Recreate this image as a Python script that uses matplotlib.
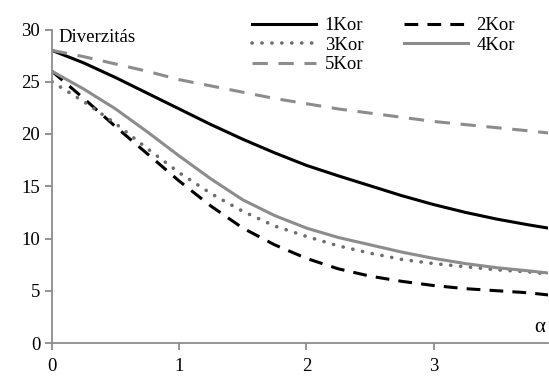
import numpy as np
from matplotlib import pyplot as plt

plt.rcParams['font.family'] = ['Liberation Serif', 'DejaVu Serif']

# alpha values (x) and the diversity curves
alpha = [0, 0.25, 0.5, 0.75, 1, 1.25, 1.5, 1.75, 2, 2.25, 2.5, 2.75, 3,
         3.25, 3.5, 3.75, 3.9]
kor1 = [28, 26.8, 25.4, 23.9, 22.4, 20.9, 19.5, 18.2, 17.0, 16.0, 15.05,
        14.1, 13.25, 12.5, 11.85, 11.3, 11.0]
kor2 = [26, 23.4, 20.7, 18.1, 15.5, 13.1, 11.0, 9.4, 8.1, 7.1, 6.4,
        5.9, 5.5, 5.2, 5.0, 4.8, 4.6]
kor3 = [25, 23.1, 21.0, 18.6, 16.3, 14.3, 12.6, 11.2, 10.2, 9.3, 8.6,
        8.0, 7.6, 7.3, 7.0, 6.8, 6.6]
kor4 = [26, 24.3, 22.4, 20.2, 17.9, 15.7, 13.7, 12.2, 11.0, 10.1, 9.4,
        8.7, 8.1, 7.6, 7.2, 6.9, 6.7]
kor5 = [28, 27.4, 26.7, 26.0, 25.2, 24.6, 24.0, 23.4, 22.9, 22.4, 22.0,
        21.6, 21.2, 20.9, 20.6, 20.3, 20.1]

fig = plt.figure(figsize=(5.49, 3.76), dpi=100)
ax = fig.add_axes([52/549, 33/376, 496/549, 313.5/376])

lw = 2.2
grey = '#8c8c8c'
h1, = ax.plot(alpha, kor1, color='black', lw=lw, label='1Kor')
h2, = ax.plot(alpha, kor2, color='black', lw=lw, dashes=(4.5, 3), label='2Kor')
h3, = ax.plot(alpha, kor3, color='#6e6e6e', lw=2.6, dashes=(0.05, 2.7),
              dash_capstyle='round', label='3Kor')
h4, = ax.plot(alpha, kor4, color=grey, lw=lw, label='4Kor')
h5, = ax.plot(alpha, kor5, color=grey, lw=lw, dashes=(5, 3.5), label='5Kor')

ax.set_xlim(0, 3.9)
ax.set_ylim(0, 30)
ax.set_xticks([0, 1, 2, 3])
ax.set_yticks(range(0, 31, 5))
for s in ['top', 'right']:
    ax.spines[s].set_visible(False)
for s in ['left', 'bottom']:
    ax.spines[s].set_color(grey)
    ax.spines[s].set_linewidth(1.3)
ax.tick_params(colors=grey, width=1.3, length=5, labelsize=13.5,
               labelcolor='black')
ax.tick_params(axis='x', pad=6)

ax.text(0.05, 28.4, 'Diverzitás', fontsize=13.5, va='bottom', ha='left')
ax.text(3.88, 0.6, 'α', fontsize=15, va='bottom', ha='right')

fig.legend([h1, h3, h5, h2, h4], ['1Kor', '3Kor', '5Kor', '2Kor', '4Kor'],
           ncol=2, frameon=False, fontsize=13.5, handlelength=3.4,
           handletextpad=0.45, columnspacing=2.2, labelspacing=0.12,
           borderpad=0, loc='upper left',
           bbox_to_anchor=(243/549, 1 - 8/376))

fig.savefig('out.png', dpi=100)
